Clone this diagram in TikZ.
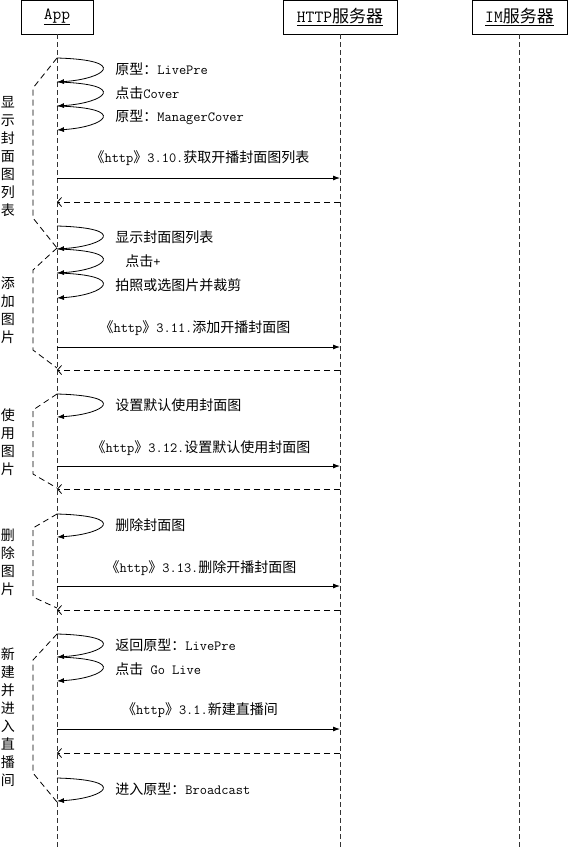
\documentclass[tikz,border=0pt]{standalone}
\usepackage{fontspec}
\newfontfamily\cjk{Noto Sans CJK SC}
\usetikzlibrary{arrows.meta}
\newcommand\zh[1]{{\cjk #1}}
\tikzset{every picture/.style={line width=0.8pt,x=1pt,y=-1pt},
  head/.style={draw,fill=white,minimum height=34pt,inner sep=0pt,font=\fontsize{17}{20}\selectfont\ttfamily},
  life/.style={draw=black!80,dash pattern=on 5pt off 3pt},
  msg/.style={-{Latex[length=7pt,width=5pt]}},
  ret/.style={dash pattern=on 6pt off 4pt,-{Straight Barb[length=4pt,width=9pt]}},
  selfmsg/.style={-{Latex[length=7pt,width=5pt]}},
  frag/.style={dash pattern=on 6pt off 4pt},
  lbl/.style={font=\fontsize{14}{18}\selectfont\ttfamily,inner sep=0pt},
  vlbl/.style={font=\fontsize{14}{18}\selectfont\cjk,align=center,inner sep=0pt}}

\begin{document}
\begin{tikzpicture}
\useasboundingbox (0,0) rectangle (568,847);

% lifelines
\node (app) at (57,17) [head,minimum width=72pt] {\underline{App}};
\node (http) at (340,17) [head,minimum width=114pt] {\underline{HTTP\zh{服务器}}};
\node (im) at (519.5,17) [head,minimum width=95pt] {\underline{IM\zh{服务器}}};
\coordinate (append) at (57,847);
\coordinate (httpend) at (340,847);
\coordinate (imend) at (519.5,847);
\draw[life] (app) -- (append);
\draw[life] (http) -- (httpend);
\draw[life] (im) -- (imend);

% self messages on App
\foreach \n/\t/\b in {1/58/82,2/82/106,3/106/130,4/226/249,5/249/273,6/273/298,7/394/417,8/514/537,9/634/657,10/657/681,11/778/801}{
  \coordinate (l\n-t) at (57,\t);
  \coordinate (l\n-b) at (57,\b);
  \draw[selfmsg] (l\n-t) .. controls +(73,2) and +(48,-3) .. (l\n-b);
}
\node (s1) at (115,69) [lbl,anchor=west] {\zh{原型：}LivePre};
\node (s2) at (115,93) [lbl,anchor=west] {\zh{点击}Cover};
\node (s3) at (115,117) [lbl,anchor=west] {\zh{原型：}ManagerCover};
\node (s4) at (115,237) [lbl,anchor=west] {\zh{显示封面图列表}};
\node (s5) at (125,261) [lbl,anchor=west] {\zh{点击}+};
\node (s6) at (115,285) [lbl,anchor=west] {\zh{拍照或选图片并裁剪}};
\node (s7) at (115,405) [lbl,anchor=west] {\zh{设置默认使用封面图}};
\node (s8) at (115,525) [lbl,anchor=west] {\zh{删除封面图}};
\node (s9) at (115,645) [lbl,anchor=west] {\zh{返回原型：}LivePre};
\node (s10) at (115,669) [lbl,anchor=west] {\zh{点击} Go Live};
\node (s11) at (115,789) [lbl,anchor=west] {\zh{进入原型：}Broadcast};

% http calls and replies
\foreach \n/\y/\r in {1/178/202,2/347/370,3/466/489,4/586/610,5/729/753}{
  \coordinate (m\n-a) at (57,\y);
  \coordinate (m\n-h) at (340,\y);
  \coordinate (r\n-h) at (340,\r);
  \coordinate (r\n-a) at (57,\r);
  \draw[msg] (m\n-a) -- (m\n-h);
  \draw[ret] (r\n-h) -- (r\n-a);
}
\node (c1) at (200,158) [lbl] {\zh{《}http\zh{》}3.10.\zh{获取开播封面图列表}};
\node (c2) at (195,328) [lbl] {\zh{《}http\zh{》}3.11.\zh{添加开播封面图}};
\node (c3) at (201,448) [lbl] {\zh{《}http\zh{》}3.12.\zh{设置默认使用封面图}};
\node (c4) at (201,568) [lbl] {\zh{《}http\zh{》}3.13.\zh{删除开播封面图}};
\node (c5) at (200,710) [lbl] {\zh{《}http\zh{》}3.1.\zh{新建直播间}};

% groups
\draw[frag] (57,58) -- (33,88) -- (33,218) -- (57,248);
\draw[frag] (57,248) -- (33,270) -- (33,350) -- (57,368);
\draw[frag] (57,394) -- (33,410) -- (33,474) -- (57,488);
\draw[frag] (57,514) -- (33,528) -- (33,597) -- (57,608);
\draw[frag] (57,634) -- (33,660) -- (33,773) -- (57,802);
\node (g1) at (8,157) [vlbl] {显\\示\\封\\面\\图\\列\\表};
\node (g2) at (8,310) [vlbl] {添\\加\\图\\片};
\node (g3) at (8,442) [vlbl] {使\\用\\图\\片};
\node (g4) at (8,562) [vlbl] {删\\除\\图\\片};
\node (g5) at (8,717) [vlbl] {新\\建\\并\\进\\入\\直\\播\\间};
\end{tikzpicture}
\end{document}
